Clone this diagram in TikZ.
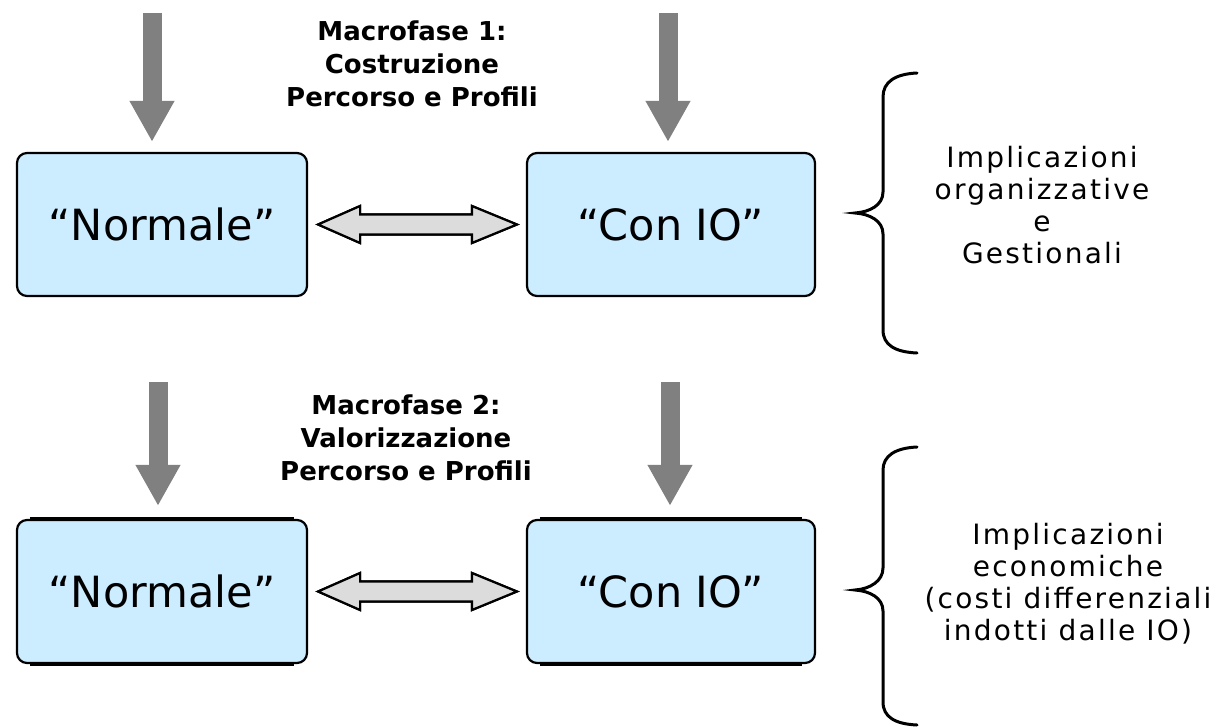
\documentclass[tikz,border=0pt]{standalone}
\usepackage{fontspec}
\setmainfont{DejaVu Sans}
\newfontfamily\sidefont[LetterSpace=8]{DejaVu Sans}
\usetikzlibrary{arrows.meta,calc}

\definecolor{boxblue}{RGB}{204,236,255}
\definecolor{arrowgray}{RGB}{128,128,128}
\definecolor{pairgray}{RGB}{220,220,220}

\tikzset{
  phasebox/.style={draw=black, line width=2.2pt, fill=boxblue, rounded corners=10pt,
    minimum width=290pt, minimum height=143pt, inner sep=0pt,
    font=\fontsize{43}{50}\selectfont},
  downarrow/.style={draw=arrowgray, line width=19pt, -{Triangle[width=42pt,length=41pt]}},
  pairarrow/.style={fill=pairgray, draw=black, line width=2.2pt, line join=miter},
  pairshadow/.style={fill=black, draw=black, line width=2.2pt},
  phaselabel/.style={align=center, font=\bfseries\fontsize{26}{33}\selectfont},
  sidetext/.style={align=center, font=\sidefont\fontsize{28}{32}\selectfont},
  bracket/.style={draw=black, line width=3pt, line cap=round}
}

% outline of a two-headed block arrow between two boxes
\newcommand\pairpath[3]{%
  \path[#3] let \p1=($(#1.east)+(10pt,0)$), \p2=($(#2.west)+(-9pt,0)$) in
    (\x1,\y1) -- ({\x1+42pt},{\y1+18.5pt}) -- ({\x1+42pt},{\y1+10pt})
    -- ({\x2-45pt},{\y1+10pt}) -- ({\x2-45pt},{\y1+18.5pt}) -- (\x2,\y1)
    -- ({\x2-45pt},{\y1-18.5pt}) -- ({\x2-45pt},{\y1-10pt})
    -- ({\x1+42pt},{\y1-10pt}) -- ({\x1+42pt},{\y1-18.5pt}) -- cycle;}

\begin{document}
\begin{tikzpicture}[x=1pt,y=-1pt]
\useasboundingbox (0,0) rectangle (1218,727);

% ---- phase 1 ----
\node[phasebox] (n1) at (162,224.5) {“Normale”};
\node[phasebox, minimum width=288pt] (c1) at (671,224.5) {“Con IO”};
\node[phaselabel] (p1) at (412,64) {Macrofase 1:\\Costruzione\\Percorso e Profili};

\coordinate (a1) at (152,13);
\coordinate (b1) at (668,13);
\draw[downarrow] (a1) -- ($(a1 |- n1.north)+(0,10pt)$);
\draw[downarrow] (b1) -- ($(b1 |- c1.north)+(0,10pt)$);

\begin{scope}[shift={(1.2pt,-2.2pt)}]
  \pairpath{n1}{c1}{pairshadow}
\end{scope}
\pairpath{n1}{c1}{pairarrow}

\draw[bracket] (917,73) .. controls (895,74) and (883,82) .. (883,97)
  -- (883,192) .. controls (883,205) and (870,212) .. (855,213)
  .. controls (870,214) and (883,221) .. (883,234)
  -- (883,330) .. controls (883,345) and (895,352) .. (917,353);
\node[sidetext] (s1) at (1042,205) {Implicazioni\\organizzative\\e\\Gestionali};

% ---- phase 2 ----
\node[phasebox] (n2) at (162,591.5) {“Normale”};
\node[phasebox, minimum width=288pt] (c2) at (671,591.5) {“Con IO”};
\draw[line width=3pt] ([xshift=14pt,yshift=0.8pt]n2.north west) -- ([xshift=-14pt,yshift=0.8pt]n2.north east);
\draw[line width=3pt] ([xshift=14pt,yshift=-0.8pt]n2.south west) -- ([xshift=-14pt,yshift=-0.8pt]n2.south east);
\draw[line width=3pt] ([xshift=14pt,yshift=0.8pt]c2.north west) -- ([xshift=-14pt,yshift=0.8pt]c2.north east);
\draw[line width=3pt] ([xshift=14pt,yshift=-0.8pt]c2.south west) -- ([xshift=-14pt,yshift=-0.8pt]c2.south east);
\node[phaselabel] (p2) at (406,438) {Macrofase 2:\\Valorizzazione\\Percorso e Profili};

\coordinate (a2) at (158,382);
\coordinate (b2) at (670,382);
\draw[downarrow] (a2) -- ($(a2 |- n2.north)+(0,13pt)$);
\draw[downarrow] (b2) -- ($(b2 |- c2.north)+(0,13pt)$);

\begin{scope}[shift={(1.2pt,-2.2pt)}]
  \pairpath{n2}{c2}{pairshadow}
\end{scope}
\pairpath{n2}{c2}{pairarrow}

\draw[bracket] (917,447) .. controls (895,448) and (883,456) .. (883,470)
  -- (883,568) .. controls (883,581) and (870,589) .. (855,590)
  .. controls (870,591) and (883,598) .. (883,611)
  -- (883,702) .. controls (883,717) and (895,724) .. (917,725);
\node[sidetext] (s2) at (1068,584) {Implicazioni\\economiche\\(costi differenziali\\indotti dalle IO)};
\end{tikzpicture}
\end{document}
